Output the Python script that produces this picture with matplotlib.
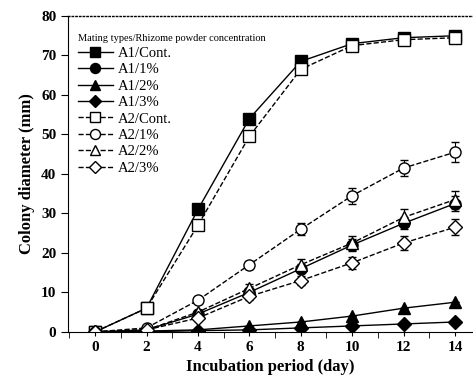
import matplotlib.pyplot as plt
import numpy as np

plt.rcParams['font.family'] = ['Liberation Serif', 'DejaVu Serif']

days = [0, 2, 4, 6, 8, 10, 12, 14]

a1_cont = [0, 6, 31, 54, 68.5, 73, 74.5, 75]
a1_1 = [0, 0.5, 4.5, 10, 16, 22, 27.5, 32.5]
a1_2 = [0, 0.2, 0.5, 1.5, 2.5, 4, 6, 7.5]
a1_3 = [0, 0, 0.3, 0.5, 1, 1.5, 2, 2.5]
a2_cont = [0, 6, 27, 49.5, 66.5, 72.5, 74, 74.5]
a2_1 = [0, 1, 8, 17, 26, 34.5, 41.5, 45.5]
a2_2 = [0, 0.5, 5, 11, 17, 22.5, 29, 33.5]
a2_3 = [0, 0.5, 3.5, 9, 13, 17.5, 22.5, 26.5]

err_a1_cont = [0, 0.3, 0.5, 0.8, 0.8, 0.7, 0.8, 0.8]
err_a1_1 = [0, 0.2, 0.5, 1.0, 1.2, 1.5, 1.5, 1.8]
err_a2_cont = [0, 0.3, 0.5, 0.8, 0.8, 0.7, 0.8, 0.8]
err_a2_1 = [0, 0.3, 0.6, 1.0, 1.5, 2.0, 2.0, 2.5]
err_a2_2 = [0, 0.3, 0.6, 1.0, 1.5, 1.8, 2.0, 2.2]
err_a2_3 = [0, 0.3, 0.5, 1.0, 1.2, 1.5, 1.8, 2.0]
err_small = [0] * 8

series = [
    ('A1/Cont.', a1_cont, err_a1_cont, 's', '-', 'k'),
    ('A1/1%', a1_1, err_a1_1, 'o', '-', 'k'),
    ('A1/2%', a1_2, err_small, '^', '-', 'k'),
    ('A1/3%', a1_3, err_small, 'D', '-', 'k'),
    ('A2/Cont.', a2_cont, err_a2_cont, 's', '--', 'w'),
    ('A2/1%', a2_1, err_a2_1, 'o', '--', 'w'),
    ('A2/2%', a2_2, err_a2_2, '^', '--', 'w'),
    ('A2/3%', a2_3, err_a2_3, 'D', '--', 'w'),
]

fig = plt.figure(figsize=(4.73, 3.81), dpi=100)
ax = fig.add_axes([0.144, 0.129, 0.856, 0.829])

handles = []
for name, vals, err, mk, ls, fc in series:
    ms = 7 if mk == 'D' else 8
    ax.errorbar(days, vals, yerr=err, fmt='none', ecolor='k',
                capsize=3, elinewidth=0.8)
    h, = ax.plot(days, vals, marker=mk, linestyle=ls, color='k',
                 mfc=fc, mec='k', ms=ms, lw=1, label=name)
    handles.append(h)

ax.set_xlim(-1.05, 14.7)
ax.set_ylim(0, 80)
ax.set_xticks(days)
ax.set_xticks([-1, 1, 3, 5, 7, 9, 11, 13], minor=True)
ax.set_yticks(np.arange(0, 81, 10))
ax.tick_params(axis='x', which='major', length=3, direction='out', labelsize=11)
ax.tick_params(axis='x', which='minor', length=4, direction='out')
ax.tick_params(axis='y', length=5, direction='out', labelsize=11)
for lab in ax.get_xticklabels() + ax.get_yticklabels():
    lab.set_fontweight('bold')
ax.spines['right'].set_visible(False)
ax.spines['top'].set_linestyle(':')
ax.spines['top'].set_linewidth(1)

ax.set_xlabel('Incubation period (day)', fontsize=12, fontweight='bold')
ax.set_ylabel('Colony diameter (mm)', fontsize=12, fontweight='bold')

leg = ax.legend(handles=handles, loc='upper left', bbox_to_anchor=(0.01, 0.96),
                frameon=False, fontsize=10.5, markerscale=0.9,
                title='Mating types/Rhizome powder concentration',
                title_fontsize=7.5, handlelength=2.4, handletextpad=0.3,
                labelspacing=0.22, borderaxespad=0)
leg._legend_box.align = 'left'

fig.savefig('out.png', dpi=100)
